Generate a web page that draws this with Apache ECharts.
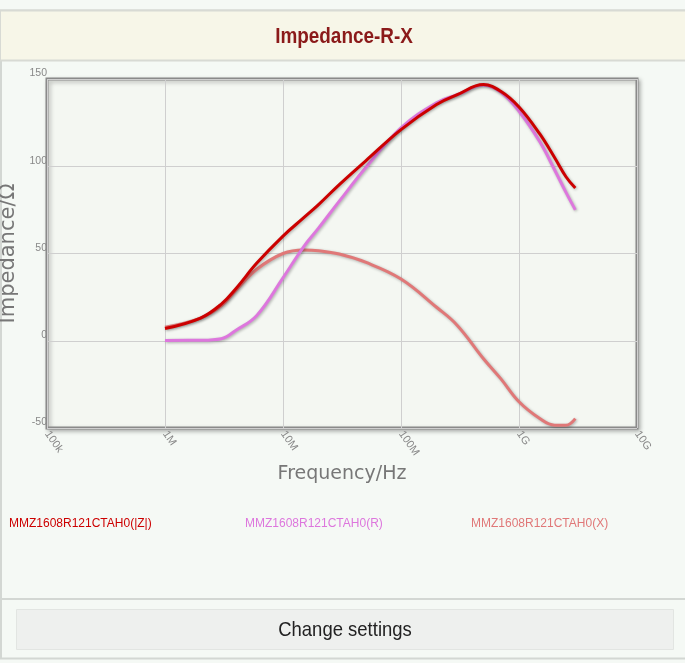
<!DOCTYPE html>
<html>
<head>
<meta charset="utf-8">
<script src="https://cdn.jsdelivr.net/npm/echarts@6/dist/echarts.min.js"></script>
<style>
html,body{margin:0;padding:0;background:#f5f9f5;}
#chart{width:685px;height:663px;}
</style>
</head>
<body>
<div id="chart"></div>
<script>
// Frequency samples (Hz)
const freqs = [1e6, 2e6, 3e6, 4e6, 6e6, 1e7, 1.5e7, 2e7, 3e7, 5e7, 1e8, 2e8, 3e8, 5e8, 7e8, 1e9, 1.5e9, 2e9, 2.5e9, 3e9];
// Impedance values (Ohm)
const zValues = [7, 13, 21, 30, 44.5, 60, 70.5, 78, 89.5, 103, 121, 135.4, 141, 146.8, 143, 134, 118.5, 105, 94, 87.5];
const rValues = [0.2, 0.3, 1.2, 6, 14.5, 36, 54, 64.5, 80, 99, 122, 136.4, 141, 146.5, 142.5, 131.5, 114, 98, 85, 75];
const xValues = [7.8, 13, 20, 29, 41, 50, 52, 51.6, 49.7, 45, 35.4, 19.2, 8.8, -10.3, -21.7, -35, -44.6, -48.4, -48.4, -44.6];
const seriesNames = ['MMZ1608R121CTAH0(|Z|)', 'MMZ1608R121CTAH0(R)', 'MMZ1608R121CTAH0(X)'];
const xTickLabels = ['100k', '1M', '10M', '100M', '1G', '10G'];
const yTicks = [-50, 0, 50, 100, 150];

const colors = ['#cc0000', '#dd77dd', '#e07878'];
const pair = vals => freqs.map((f, i) => [f, vals[i]]);
const allVals = [zValues, rValues, xValues];

const chart = echarts.init(document.getElementById('chart'), null, {renderer: 'canvas'});
const sans = "'Liberation Sans', Arial, sans-serif";

const option = {
  backgroundColor: '#f5f9f5',
  animation: false,
  grid: {
    left: 47, top: 79, width: 590, height: 349,
    containLabel: false, outerBoundsMode: 'none',
    show: true, backgroundColor: '#f4f7f2',
    borderColor: '#8a8a8a', borderWidth: 3,
    shadowColor: 'rgba(0,0,0,0.25)', shadowBlur: 4, shadowOffsetX: 2, shadowOffsetY: 2
  },
  xAxis: {
    type: 'log', logBase: 10, min: 1e5, max: 1e10,
    name: 'Frequency/Hz', nameLocation: 'middle', nameGap: 37,
    nameTextStyle: {fontSize: 19, color: '#777', fontFamily: "'DejaVu Sans', sans-serif"},
    axisLine: {show: false}, axisTick: {show: false},
    axisLabel: {
      rotate: -55, fontSize: 11, color: '#888', margin: 4, fontFamily: sans,
      formatter: v => xTickLabels[Math.round(Math.log10(v)) - 5]
    },
    splitLine: {show: true, lineStyle: {color: '#cfcfcf', width: 1}}
  },
  yAxis: {
    type: 'value', min: yTicks[0], max: yTicks[yTicks.length - 1], interval: 50,
    name: 'Impedance/Ω', nameLocation: 'middle', nameGap: 25,
    nameTextStyle: {fontSize: 21, color: '#777', fontFamily: "'DejaVu Sans', sans-serif"},
    axisLine: {show: false}, axisTick: {show: false},
    axisLabel: {fontSize: 10.5, color: '#888', margin: 0, verticalAlign: 'bottom', fontFamily: sans},
    splitLine: {show: true, lineStyle: {color: '#cfcfcf', width: 1}}
  },
  legend: seriesNames.map((n, i) => ({
    data: [n], left: [3, 239, 465][i], top: 518, padding: 0,
    itemWidth: 0, itemHeight: 0, itemGap: 0,
    textStyle: {color: colors[i], fontSize: 12, fontFamily: sans},
    selectedMode: false
  })),
  series: seriesNames.map((n, i) => ({
    name: n, type: 'line', smooth: 0.4, symbol: 'none',
    data: pair(allVals[i]),
    color: colors[i],
    lineStyle: {width: 3, color: colors[i], shadowColor: 'rgba(0,0,0,0.3)', shadowBlur: 3, shadowOffsetX: 1, shadowOffsetY: 1},
    z: 3 - i
  })),
  graphic: [
    {type: 'rect', z: -1, shape: {x: 1, y: 10.5, width: 700, height: 648}, style: {fill: 'none', stroke: '#d3d7d3', lineWidth: 2}},
    {type: 'rect', z: 0, shape: {x: 0, y: 10.5, width: 700, height: 50}, style: {fill: '#f7f6e8', stroke: '#d8dad4', lineWidth: 2}},
    {type: 'text', z: 1, x: 344, y: 37, scaleX: 0.86, style: {text: 'Impedance-R-X', fill: '#8b1a1a', font: "bold 22px " + sans, textAlign: 'center', textVerticalAlign: 'middle'}},
    {type: 'line', z: 0, shape: {x1: 0, y1: 599, x2: 685, y2: 599}, style: {stroke: '#d3d7d3', lineWidth: 2}},
    {type: 'rect', z: 0, shape: {x: 16.5, y: 609.5, width: 657, height: 40}, style: {fill: '#eef0ee', stroke: '#e2e5e2', lineWidth: 1}},
    {type: 'text', z: 1, x: 345, y: 630, scaleX: 0.88, style: {text: 'Change settings', fill: '#222', font: "21px " + sans, textAlign: 'center', textVerticalAlign: 'middle'}}
  ]
};
chart.setOption(option);
</script>
</body>
</html>
